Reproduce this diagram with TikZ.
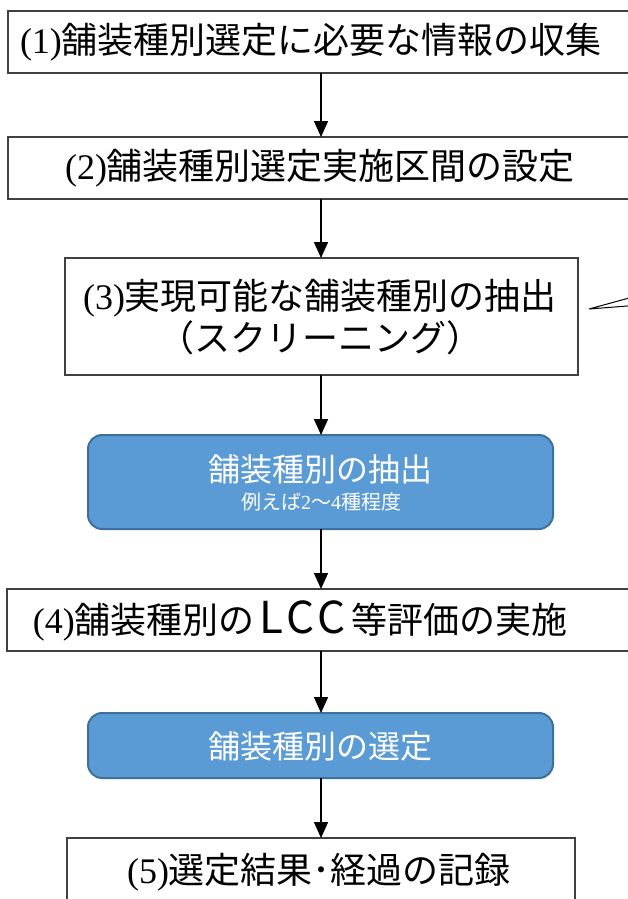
\documentclass[tikz,border=0pt]{standalone}
\usepackage{fontspec}
\setmainfont{Liberation Serif}
\newfontfamily\jpf{Noto Sans CJK JP}
\usetikzlibrary{arrows.meta,calc}
\definecolor{bfill}{HTML}{5B9BD5}
\definecolor{bdr}{HTML}{3F6F9C}
\definecolor{gline}{HTML}{404040}
\tikzset{
  wbox/.style={draw=gline, line width=1.3pt, fill=white, inner sep=0pt, outer sep=0pt},
  bbox/.style={draw=bdr, fill=bfill, line width=2pt, rounded corners=14pt, inner sep=0pt, outer sep=0pt},
  conn/.style={line width=1.5pt, -{Triangle[width=14pt,length=16pt]}},
  lbl/.style={font=\jpf\fontsize{36}{42}\selectfont, inner sep=0pt, align=center},
  blbl/.style={font=\jpf\fontsize{32}{38}\selectfont, inner sep=0pt, text=white},
  slbl/.style={font=\jpf\fontsize{20}{24}\selectfont, inner sep=0pt, text=white},
  callout/.style={line width=1pt, draw=black},
}
\begin{document}
\begin{tikzpicture}[x=1pt,y=-1pt]
\useasboundingbox (0,0) rectangle (628,899);
\clip (0,0) rectangle (628,899);
\fill[white] (0,0) rectangle (628,899);
\coordinate (ax) at (321,0);
% boxes
\node[wbox, minimum width=642pt, minimum height=62pt] (b1) at (329,42) {};
\node[wbox, minimum width=642pt, minimum height=62pt] (b2) at (329,168) {};
\node[wbox, minimum width=513pt, minimum height=117pt] (b3) at (321.5,316.5) {};
\node[bbox, minimum width=465pt, minimum height=94pt] (u1) at (320.5,482) {};
\node[wbox, minimum width=643pt, minimum height=62pt] (b4) at (328.5,620) {};
\node[bbox, minimum width=465pt, minimum height=65pt] (u2) at (320.5,745.5) {};
\node[wbox, minimum width=508pt, minimum height=82pt] (b5) at (321,879) {};
% texts
\node[lbl] (t1) at (311,42) {{\rmfamily (1)}舗装種別選定に必要な情報の収集};
\node[lbl] (t2) at (320,168) {{\rmfamily (2)}舗装種別選定実施区間の設定};
\node[lbl] (t3) at (320,317) {{\rmfamily (3)}実現可能な舗装種別の抽出\\（スクリーニング）};
\node[blbl] (t5) at (320,469) {舗装種別の抽出};
\node[slbl] (t6) at (321,502) {例えば{\rmfamily 2}～{\rmfamily 4}種程度};
\node[lbl] (t4) at (300,621) {{\rmfamily (4)}舗装種別の\kern5pt{\fontsize{44}{42}\selectfont L\kern3pt C\kern3pt C}\kern5pt 等評価の実施};
\node[blbl] (t7) at (320,746) {舗装種別の選定};
\node[lbl] (t8) at (319,872) {{\rmfamily (5)}選定結果･経過の記録};
% connectors
\draw[conn] (b1.south -| ax) -- (b2.north -| ax);
\draw[conn] (b2.south -| ax) -- (b3.north -| ax);
\draw[conn] (b3.south -| ax) -- (u1.north -| ax);
\draw[conn] (u1.south -| ax) -- (b4.north -| ax);
\draw[conn] (b4.south -| ax) -- (u2.north -| ax);
\draw[conn] (u2.south -| ax) -- (b5.north -| ax);
% callout pointer
\coordinate (cp) at (589,309);
\coordinate (ce1) at (640,295);
\coordinate (ce2) at (640,305);
\draw[callout] (ce1) -- (cp) -- (ce2);
\end{tikzpicture}
\end{document}
